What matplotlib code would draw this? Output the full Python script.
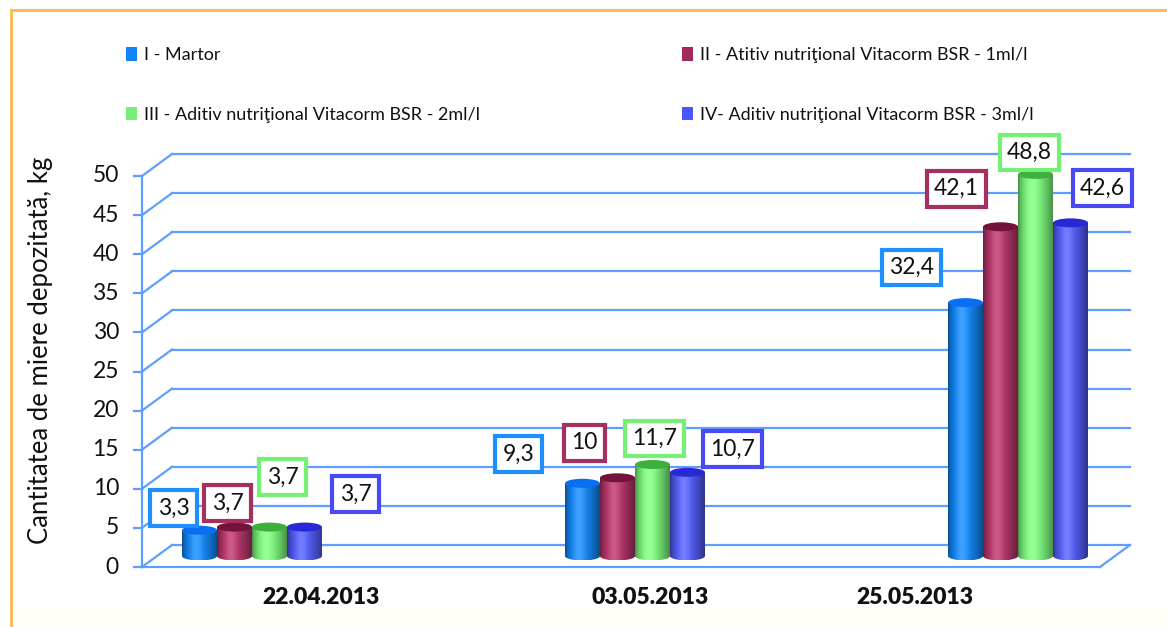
import numpy as np
import matplotlib
matplotlib.use("Agg")
import matplotlib.pyplot as plt
from matplotlib.path import Path
from matplotlib.patches import PathPatch, Ellipse, Rectangle, Patch
from matplotlib.lines import Line2D

plt.rcParams['font.family'] = ['Lato', 'DejaVu Sans']

# ---- data ----
dates = ["22.04.2013", "03.05.2013", "25.05.2013"]
series_names = [
    "I - Martor",
    "II - Atitiv nutriţional Vitacorm BSR - 1ml/l",
    "III - Aditiv nutriţional Vitacorm BSR - 2ml/l",
    "IV- Aditiv nutriţional Vitacorm BSR - 3ml/l",
]
martor = [3.3, 9.3, 32.4]
aditiv_1ml = [3.7, 10.0, 42.1]
aditiv_2ml = [3.7, 11.7, 48.8]
aditiv_3ml = [3.7, 10.7, 42.6]
y_ticks = [0, 5, 10, 15, 20, 25, 30, 35, 40, 45, 50]
y_label = "Cantitatea de miere depozitată, kg"

series = [martor, aditiv_1ml, aditiv_2ml, aditiv_3ml]

# ---- styling ----
body_colors = [(20, 140, 255), (190, 55, 110), (128, 255, 128), (85, 95, 255)]
cap_colors = [(10, 110, 240), (115, 18, 58), (60, 175, 60), (40, 40, 215)]
legend_colors = ["#1482F8", "#A3285C", "#78F078", "#4A55FF"]
box_colors = ["#1E8FFF", "#A3305F", "#74F074", "#4A4AF5"]
grid_color = "#5E9EFF"
frame_color = "#FFB84D"

# label offsets (pixels) from the top of each cylinder, per date then series
label_offsets = [
    [(-26, 22), (-7, 24), (13, 50), (51, 33)],
    [(-64, 29), (-33, 35), (2, 26), (45, 23)],
    [(-54, 35), (-44, 38), (-6, 22), (32, 35)],
]
date_label_shift = [0.18, 0.04, -0.27]

W, H = 1167, 627
fig = plt.figure(figsize=(W / 100, H / 100), dpi=100)
fig.patch.set_facecolor("white")
ax = fig.add_axes([0, 0, 1, 1])
ax.set_axis_off()

# pixel <-> data scale of the plotting region
X0, SX = 252.0, 383.0      # px of first group centre, px per category
Y0, SY = 567.0, 7.82       # px of value 0 (front), px per kg
def px_x(p):
    return (p - X0) / SX

x_left = px_x(142)
x_front_right = px_x(1100)
x_back_right = px_x(1130)
dx, dv = 30 / SX, 22 / SY
tick_len = 8 / SX

# walls & gridlines
for v in y_ticks:
    ax.plot([x_left + dx, x_back_right], [v + dv, v + dv], color=grid_color, lw=1.6, zorder=1)
    ax.plot([x_left, x_left + dx], [v, v + dv], color=grid_color, lw=1.6, zorder=1)
    ax.plot([x_left - tick_len, x_left], [v, v], color=grid_color, lw=1.6, zorder=1)
    ax.text(px_x(119), v, str(v), ha="right", va="center", fontsize=16.5, color="#111111")
ax.plot([x_left, x_left], [0, y_ticks[-1]], color=grid_color, lw=1.6, zorder=1)
ax.plot([x_left, x_front_right], [0, 0], color=grid_color, lw=1.6, zorder=1)
ax.plot([x_front_right, x_back_right], [0, dv], color=grid_color, lw=1.6, zorder=1)

# cylinders
bar_w = 35 / SX
base = 11 / SY
ell_h = 9 / SY

def shade(rgb, n=60):
    t = np.linspace(0, 1, n)
    s = np.sin(np.pi * t ** 0.75)
    f = 0.55 + 0.45 * s
    c = np.array(rgb) / 255.0
    col = c[None, :] * f[:, None] + (1 - c[None, :]) * 0.18 * (s ** 8)[:, None]
    return np.clip(col, 0, 1)

def cylinder(xc, value, rgb, cap_rgb, z):
    x0, x1 = xc - bar_w / 2, xc + bar_w / 2
    top = base + value
    th = np.linspace(np.pi, 2 * np.pi, 50)
    bx = xc + (bar_w / 2) * np.cos(th)
    by = base + (ell_h / 2) * np.sin(th)
    verts = list(zip(bx, by)) + [(x1, top), (x0, top), (bx[0], by[0])]
    codes = [Path.MOVETO] + [Path.LINETO] * (len(verts) - 2) + [Path.CLOSEPOLY]
    patch = PathPatch(Path(verts, codes), facecolor="none", edgecolor="none", zorder=z)
    ax.add_patch(patch)
    img = ax.imshow(shade(rgb)[None, :, :], extent=(x0, x1, base - ell_h / 2, top),
                    aspect="auto", interpolation="bilinear", zorder=z)
    img.set_clip_path(patch)
    cap = Ellipse((xc, top), bar_w, ell_h, facecolor=np.array(cap_rgb) / 255.0,
                  edgecolor="none", zorder=z + 0.1)
    ax.add_patch(cap)
    return top

z = 3
for g in range(len(dates)):
    for k, vals in enumerate(series):
        xc = g + (k - 1.5) * bar_w
        top = cylinder(xc, vals[g], body_colors[k], cap_colors[k], z)
        z += 1
        txt = f"{vals[g]:g}".replace(".", ",")
        ax.annotate(txt, xy=(xc, top), xytext=label_offsets[g][k], textcoords="offset pixels",
                    ha="center", va="center", fontsize=16.5, color="#111111", zorder=50,
                    bbox=dict(boxstyle="square,pad=0.32", facecolor="white",
                              edgecolor=box_colors[k], linewidth=3))

# date labels
for g, d in enumerate(dates):
    ax.text(g + date_label_shift[g], (Y0 - 597) / SY, d, ha="center", va="center",
            fontsize=16.5, fontweight="heavy", color="#111111")

ax.set_xlim(px_x(0), px_x(W))
ax.set_ylim((Y0 - H) / SY, Y0 / SY)

# y axis title
fig.text(41 / W, 1 - 350 / H, y_label, rotation=90, ha="center", va="center",
         fontsize=18.5, color="#111111")

# legend in two columns
handles = [Patch(facecolor=c, edgecolor="none") for c in legend_colors]
leg_kw = dict(frameon=False, fontsize=13, handlelength=0.6, handleheight=0.8,
              handletextpad=0.4, labelspacing=2.4, borderpad=0, borderaxespad=0,
              loc="upper left", labelcolor="#111111")
leg1 = fig.legend([handles[0], handles[2]], [series_names[0], series_names[2]],
                  bbox_to_anchor=(126 / W, 1 - 47 / H), **leg_kw)
leg2 = fig.legend([handles[1], handles[3]], [series_names[1], series_names[3]],
                  bbox_to_anchor=(682 / W, 1 - 47 / H), **leg_kw)

# outer frame and light bottom band
fig.add_artist(Rectangle((11 / W, 0), 1 - 11 / W, 20 / H, transform=fig.transFigure,
                         facecolor="#FFFDF8", edgecolor="none", zorder=-1))
fig.add_artist(Line2D([11 / W, 1], [1 - 10 / H, 1 - 10 / H], transform=fig.transFigure,
                      color=frame_color, lw=2))
fig.add_artist(Line2D([11 / W, 11 / W], [0, 1 - 10 / H], transform=fig.transFigure,
                      color=frame_color, lw=2))

fig.savefig("out.png", dpi=100)
